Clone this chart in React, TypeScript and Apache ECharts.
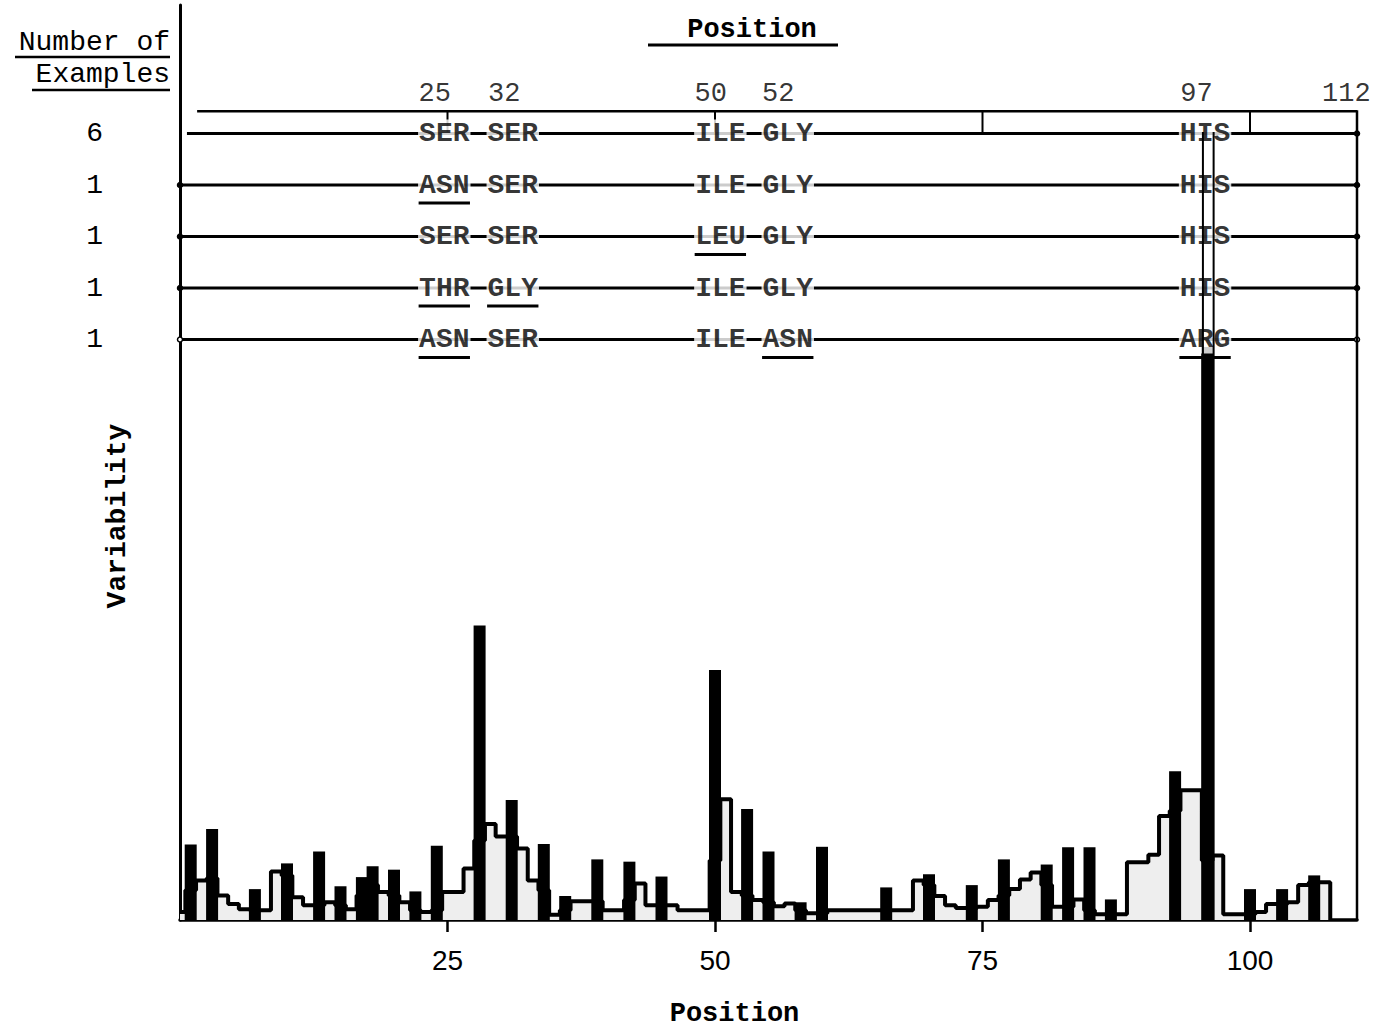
import React, { useEffect, useRef } from "react";
import * as echarts from "echarts";

// ---- data ----
const rowCounts = ["6", "1", "1", "1", "1"];
const columnNumbers = ["25", "32", "50", "52", "97", "112"];
const residueRows = [
  ["SER", "SER", "ILE", "GLY", "HIS"],
  ["ASN", "SER", "ILE", "GLY", "HIS"],
  ["SER", "SER", "LEU", "GLY", "HIS"],
  ["THR", "GLY", "ILE", "GLY", "HIS"],
  ["ASN", "SER", "ILE", "ASN", "ARG"],
];
// stepped variability profile, positions 0..107
const outlineValues = [
  1.4, 5.2, 6.9, 7.3, 4.3, 2.8, 1.9, 1.7, 1.7, 8.5,
  7.8, 4.0, 2.6, 2.6, 3.1, 2.6, 1.9, 4.3, 6.1, 4.9,
  4.3, 3.1, 1.7, 1.4, 1.7, 4.9, 4.9, 9.0, 13.9, 16.8,
  14.6, 14.6, 12.5, 6.9, 5.2, 0.9, 1.7, 3.3, 3.3, 3.3,
  1.7, 1.7, 3.5, 6.4, 2.6, 2.6, 2.6, 1.7, 1.7, 1.7,
  10.4, 21.1, 4.9, 4.3, 3.5, 3.1, 2.4, 2.9, 1.7, 1.2,
  1.2, 1.7, 1.7, 1.7, 1.7, 1.7, 1.7, 1.7, 1.7, 6.9,
  6.1, 4.2, 2.6, 2.1, 2.1, 2.3, 3.5, 4.3, 5.4, 7.1,
  8.3, 6.1, 2.3, 2.3, 3.6, 1.7, 1.0, 1.0, 1.0, 10.1,
  10.1, 11.4, 18.2, 19.1, 22.7, 22.7, 10.4, 11.3, 1.0, 1.0,
  1.0, 1.4, 2.8, 2.8, 3.1, 6.1, 6.6, 6.6,
];
// solid bars
const barPositions = [
  1, 3, 7, 10, 13, 15, 17, 18, 20, 22, 24, 28, 31, 34, 36, 39, 42, 45,
  50, 53, 55, 58, 60, 66, 70, 74, 77, 81, 83, 85, 87, 93, 96, 100, 103, 106,
];
const barValues = [
  13.2, 15.9, 5.4, 9.9, 12.0, 5.9, 7.5, 9.4, 8.8, 5.0, 13.0, 51.5, 21.0, 13.3, 4.2, 10.6, 10.2, 7.6,
  43.7, 19.4, 12.0, 3.1, 12.8, 5.7, 8.0, 6.1, 10.6, 9.7, 12.7, 12.7, 3.6, 26.0, 100.2, 5.4, 5.4, 7.8,
];
const xTicks = [25, 50, 75, 100];

// schematic layout of the alignment panel (x in position units)
const residueX = [24.7, 31.1, 50.5, 56.8, 95.8];
const numberX = [23.8, 30.3, 49.6, 55.9, 95.0, 109.0];

const MONO = '"Liberation Mono", "DejaVu Sans Mono", monospace';
const NARROW = '"Liberation Sans Narrow", "Liberation Sans", sans-serif';

export default function App() {
  const ref = useRef<HTMLDivElement>(null);

  useEffect(() => {
    if (!ref.current) return;
    const chart = echarts.init(ref.current, null, { renderer: "svg" });

    const seg = (grid: number, pts: number[][], width: number, z = 4) => ({
      type: "line",
      xAxisIndex: grid,
      yAxisIndex: grid,
      data: pts,
      symbol: "none",
      clip: false,
      silent: true,
      z,
      lineStyle: { color: "#000", width },
    });

    const headerY = -0.43;
    const rowTopInHist = 137.8; // row 1 level expressed on the variability axis
    const bracketTopInHist = 141.6;

    const series: any[] = [];

    // histogram outline (stepped, shaded)
    const outlineData = outlineValues.map((v, i) => [i, v]);
    const last = outlineValues.length - 0.5;
    outlineData.push([last, outlineValues[outlineValues.length - 1]]);
    outlineData.push([last, 0]);
    series.push({
      type: "line",
      xAxisIndex: 0,
      yAxisIndex: 0,
      step: "middle",
      data: outlineData,
      symbol: "none",
      silent: true,
      z: 2,
      lineStyle: { color: "#000", width: 4 },
      areaStyle: { color: "#eeeeee", opacity: 1 },
    });
    // solid bars
    series.push({
      type: "bar",
      xAxisIndex: 0,
      yAxisIndex: 0,
      data: barPositions.map((p, i) => [p, barValues[i]]),
      barWidth: 12,
      silent: true,
      z: 3,
      itemStyle: { color: "#000" },
    });
    // right frame / connector line
    series.push(seg(0, [[110, 0], [110, bracketTopInHist]], 2.5));
    // double line through column 97
    series.push(seg(0, [[95.6, 8.8], [95.6, rowTopInHist]], 2, 6));
    series.push(seg(0, [[96.6, 0], [96.6, rowTopInHist]], 2, 6));

    // header bracket
    series.push(seg(1, [[1.6, headerY], [110, headerY]], 2.5));
    xTicks.forEach((t) => series.push(seg(1, [[t, headerY], [t, 0]], 2)));

    // alignment rows
    residueRows.forEach((_, r) => {
      series.push({
        type: "line",
        xAxisIndex: 1,
        yAxisIndex: 1,
        data: [
          { value: [r === 0 ? 0.65 : 0, r], symbol: r === 0 ? "none" : "circle" },
          { value: [110, r] },
        ],
        symbol: "circle",
        symbolSize: 5,
        showSymbol: true,
        clip: false,
        silent: true,
        z: 2,
        itemStyle: { color: r === 4 ? "#fff" : "#000", borderColor: "#000", borderWidth: 1.5 },
        lineStyle: { color: "#000", width: 3 },
      });
    });

    // residue labels
    const residueData: any[] = [];
    residueRows.forEach((row, r) =>
      row.forEach((res, c) => residueData.push({ value: [residueX[c], r], name: res }))
    );
    series.push({
      type: "scatter",
      xAxisIndex: 1,
      yAxisIndex: 1,
      data: residueData,
      symbolSize: 1,
      silent: true,
      z: 4,
      itemStyle: { color: "rgba(0,0,0,0)" },
      label: {
        show: true,
        position: "inside",
        formatter: "{b}",
        fontFamily: MONO,
        fontWeight: "bold",
        fontSize: 28,
        color: "#000",
        backgroundColor: "#fff",
        padding: [0, 1],
      },
    });

    // underline substitutions (differ from the consensus first row)
    residueRows.forEach((row, r) =>
      row.forEach((res, c) => {
        if (r > 0 && res !== residueRows[0][c]) {
          series.push(seg(1, [[residueX[c] - 2.4, r + 0.35], [residueX[c] + 2.4, r + 0.35]], 3, 5));
        }
      })
    );

    // column numbers
    series.push({
      type: "scatter",
      xAxisIndex: 1,
      yAxisIndex: 1,
      data: columnNumbers.map((n, i) => ({ value: [numberX[i], -0.76], name: n })),
      symbolSize: 1,
      silent: true,
      z: 4,
      itemStyle: { color: "rgba(0,0,0,0)" },
      label: {
        show: true,
        position: "inside",
        formatter: "{b}",
        fontFamily: MONO,
        fontSize: 27,
        color: "#000",
      },
    });

    const option: any = {
      animation: false,
      backgroundColor: "#fff",
      grid: [
        { left: 180, right: 16, top: 5, bottom: 104 },
        { left: 180, right: 16, top: 82, height: 283.25 },
      ],
      xAxis: [
        {
          gridIndex: 0,
          type: "value",
          min: 0,
          max: 110,
          interval: 25,
          splitLine: { show: false },
          axisLine: { show: true, lineStyle: { color: "#000", width: 3.5 } },
          axisTick: {
            show: true,
            customValues: xTicks,
            length: 12,
            lineStyle: { color: "#000", width: 2.5 },
          },
          axisLabel: {
            customValues: xTicks,
            formatter: (v: number) => (xTicks.includes(v) ? String(v) : ""),
            margin: 26,
            fontFamily: NARROW,
            fontSize: 28,
            color: "#000",
          },
          name: "Position",
          nameLocation: "middle",
          nameGap: 80,
          nameTextStyle: {
            fontFamily: MONO,
            fontWeight: "bold",
            fontSize: 27,
            color: "#000",
            padding: [0, 68, 0, 0],
          },
        },
        { gridIndex: 1, type: "value", min: 0, max: 110, show: false },
      ],
      yAxis: [
        {
          gridIndex: 0,
          type: "value",
          min: 0,
          max: 160,
          splitLine: { show: false },
          axisTick: { show: false },
          axisLabel: { show: false },
          axisLine: { show: true, lineStyle: { color: "#000", width: 3 } },
        },
        {
          gridIndex: 1,
          type: "value",
          min: -1,
          max: 4.5,
          interval: 1,
          inverse: true,
          splitLine: { show: false },
          axisTick: { show: false },
          axisLine: { show: false },
          axisLabel: {
            formatter: (v: number) => rowCounts[v] ?? "",
            margin: 77,
            fontFamily: MONO,
            fontSize: 28,
            color: "#000",
          },
        },
      ],
      graphic: [
        {
          type: "text",
          x: 170,
          y: 42,
          style: { text: "Number of", align: "right", verticalAlign: "middle", font: `28px ${MONO}`, fill: "#000" },
        },
        { type: "line", shape: { x1: 15, y1: 57, x2: 170, y2: 57 }, style: { stroke: "#000", lineWidth: 2.5 } },
        {
          type: "text",
          x: 170,
          y: 74,
          style: { text: "Examples", align: "right", verticalAlign: "middle", font: `28px ${MONO}`, fill: "#000" },
        },
        { type: "line", shape: { x1: 32, y1: 90, x2: 170, y2: 90 }, style: { stroke: "#000", lineWidth: 2.5 } },
        {
          type: "text",
          x: 752,
          y: 30,
          style: { text: "Position", align: "center", verticalAlign: "middle", font: `bold 27px ${MONO}`, fill: "#000" },
        },
        { type: "line", shape: { x1: 648, y1: 45, x2: 838, y2: 45 }, style: { stroke: "#000", lineWidth: 3 } },
        {
          type: "text",
          x: 117,
          y: 516,
          rotation: Math.PI / 2,
          style: { text: "Variability", align: "center", verticalAlign: "middle", font: `bold 28px ${MONO}`, fill: "#000" },
        },
      ],
      series,
    };

    chart.setOption(option);
    return () => chart.dispose();
  }, []);

  return (
    <div
      ref={ref}
      style={{ position: "absolute", left: 0, top: 0, width: 1373, height: 1032 }}
    />
  );
}
